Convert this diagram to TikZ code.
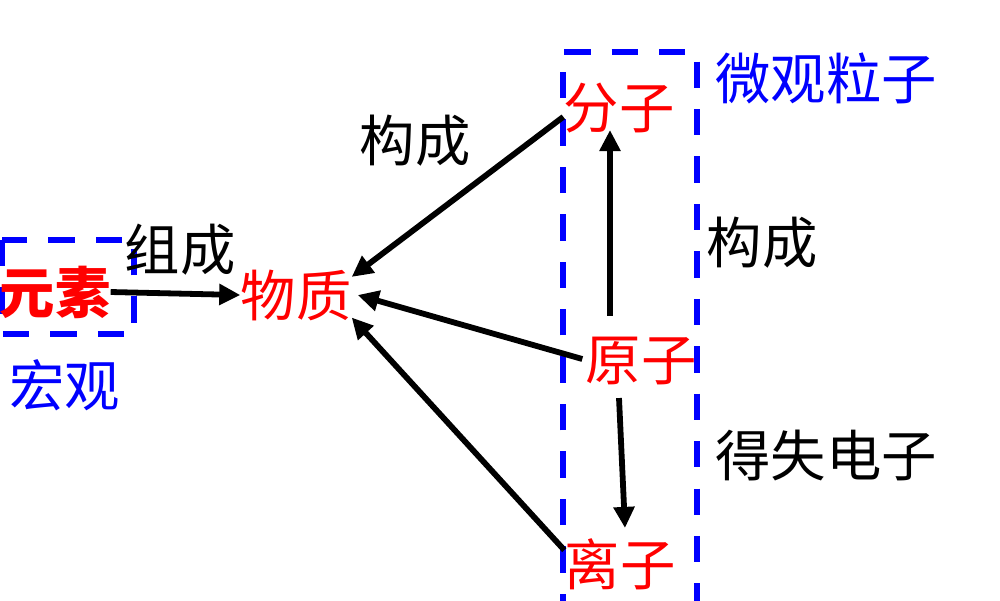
\documentclass[tikz,border=0pt]{standalone}
\usepackage{fontspec}
\newfontfamily\cjk{Noto Sans CJK SC}
\usetikzlibrary{arrows.meta}
\definecolor{myblue}{RGB}{0,0,255}
\definecolor{myred}{RGB}{255,0,0}
\tikzset{
  lbl/.style={font=\cjk\fontsize{31.5}{31.5}\selectfont, inner sep=0pt, text height=27.7pt, text depth=3.8pt},
  redlbl/.style={lbl, text=myred},
  bluelbl/.style={lbl, text=myblue},
  blacklbl/.style={lbl, text=black},
  arr/.style={draw=black, line width=3.3pt, -{Triangle[length=12pt,width=11.5pt]}},
  dashbox/.style={draw=myblue, line width=3pt, dash pattern=on 15pt off 12pt}
}
\begin{document}
\begin{tikzpicture}[x=0.02cm,y=-0.02cm]
\useasboundingbox (0,0) rectangle (1000,600);
\fill[white] (0,0) rectangle (1000,600);
% dashed boxes
\draw[dashbox] (2,240) rectangle (134,334);
\draw[dashbox] (563,620) -- (563,52) -- (697,52) -- (697,620);
% labels
\node[redlbl, font=\cjk\bfseries\fontsize{31.5}{31.5}\selectfont] (ys) at (55,292) {元素};
\node[redlbl] (wz) at (296,295) {物质};
\node[blacklbl] (zc) at (180,249) {组成};
\node[bluelbl] (hg) at (65,385) {宏观};
\node[blacklbl] (gc1) at (415,140) {构成};
\node[bluelbl] (wg) at (826,78) {微观粒子};
\node[redlbl] (fz) at (619,107) {分子};
\node[blacklbl] (gc2) at (762,242) {构成};
\node[redlbl] (yz) at (641,359) {原子};
\node[blacklbl] (ds) at (826,455) {得失电子};
\node[redlbl] (lz) at (620,564) {离子};
% arrows
\draw[arr] (ys.east) -- (wz.west);
\draw[arr] (fz.190) -- (wz.18);
\draw[arr] ([xshift=-0.6mm]yz.west) -- ([xshift=1.2mm]wz.east);
\draw[arr] (lz.166) -- (wz.-22);
\draw[arr] ([xshift=-6.2mm,yshift=3mm]yz.north) -- ([xshift=-1.8mm,yshift=1mm]fz.south);
\draw[arr] ([xshift=-4.4mm,yshift=-2.2mm]yz.south) -- ([xshift=1mm,yshift=1.6mm]lz.north);
\end{tikzpicture}
\end{document}
